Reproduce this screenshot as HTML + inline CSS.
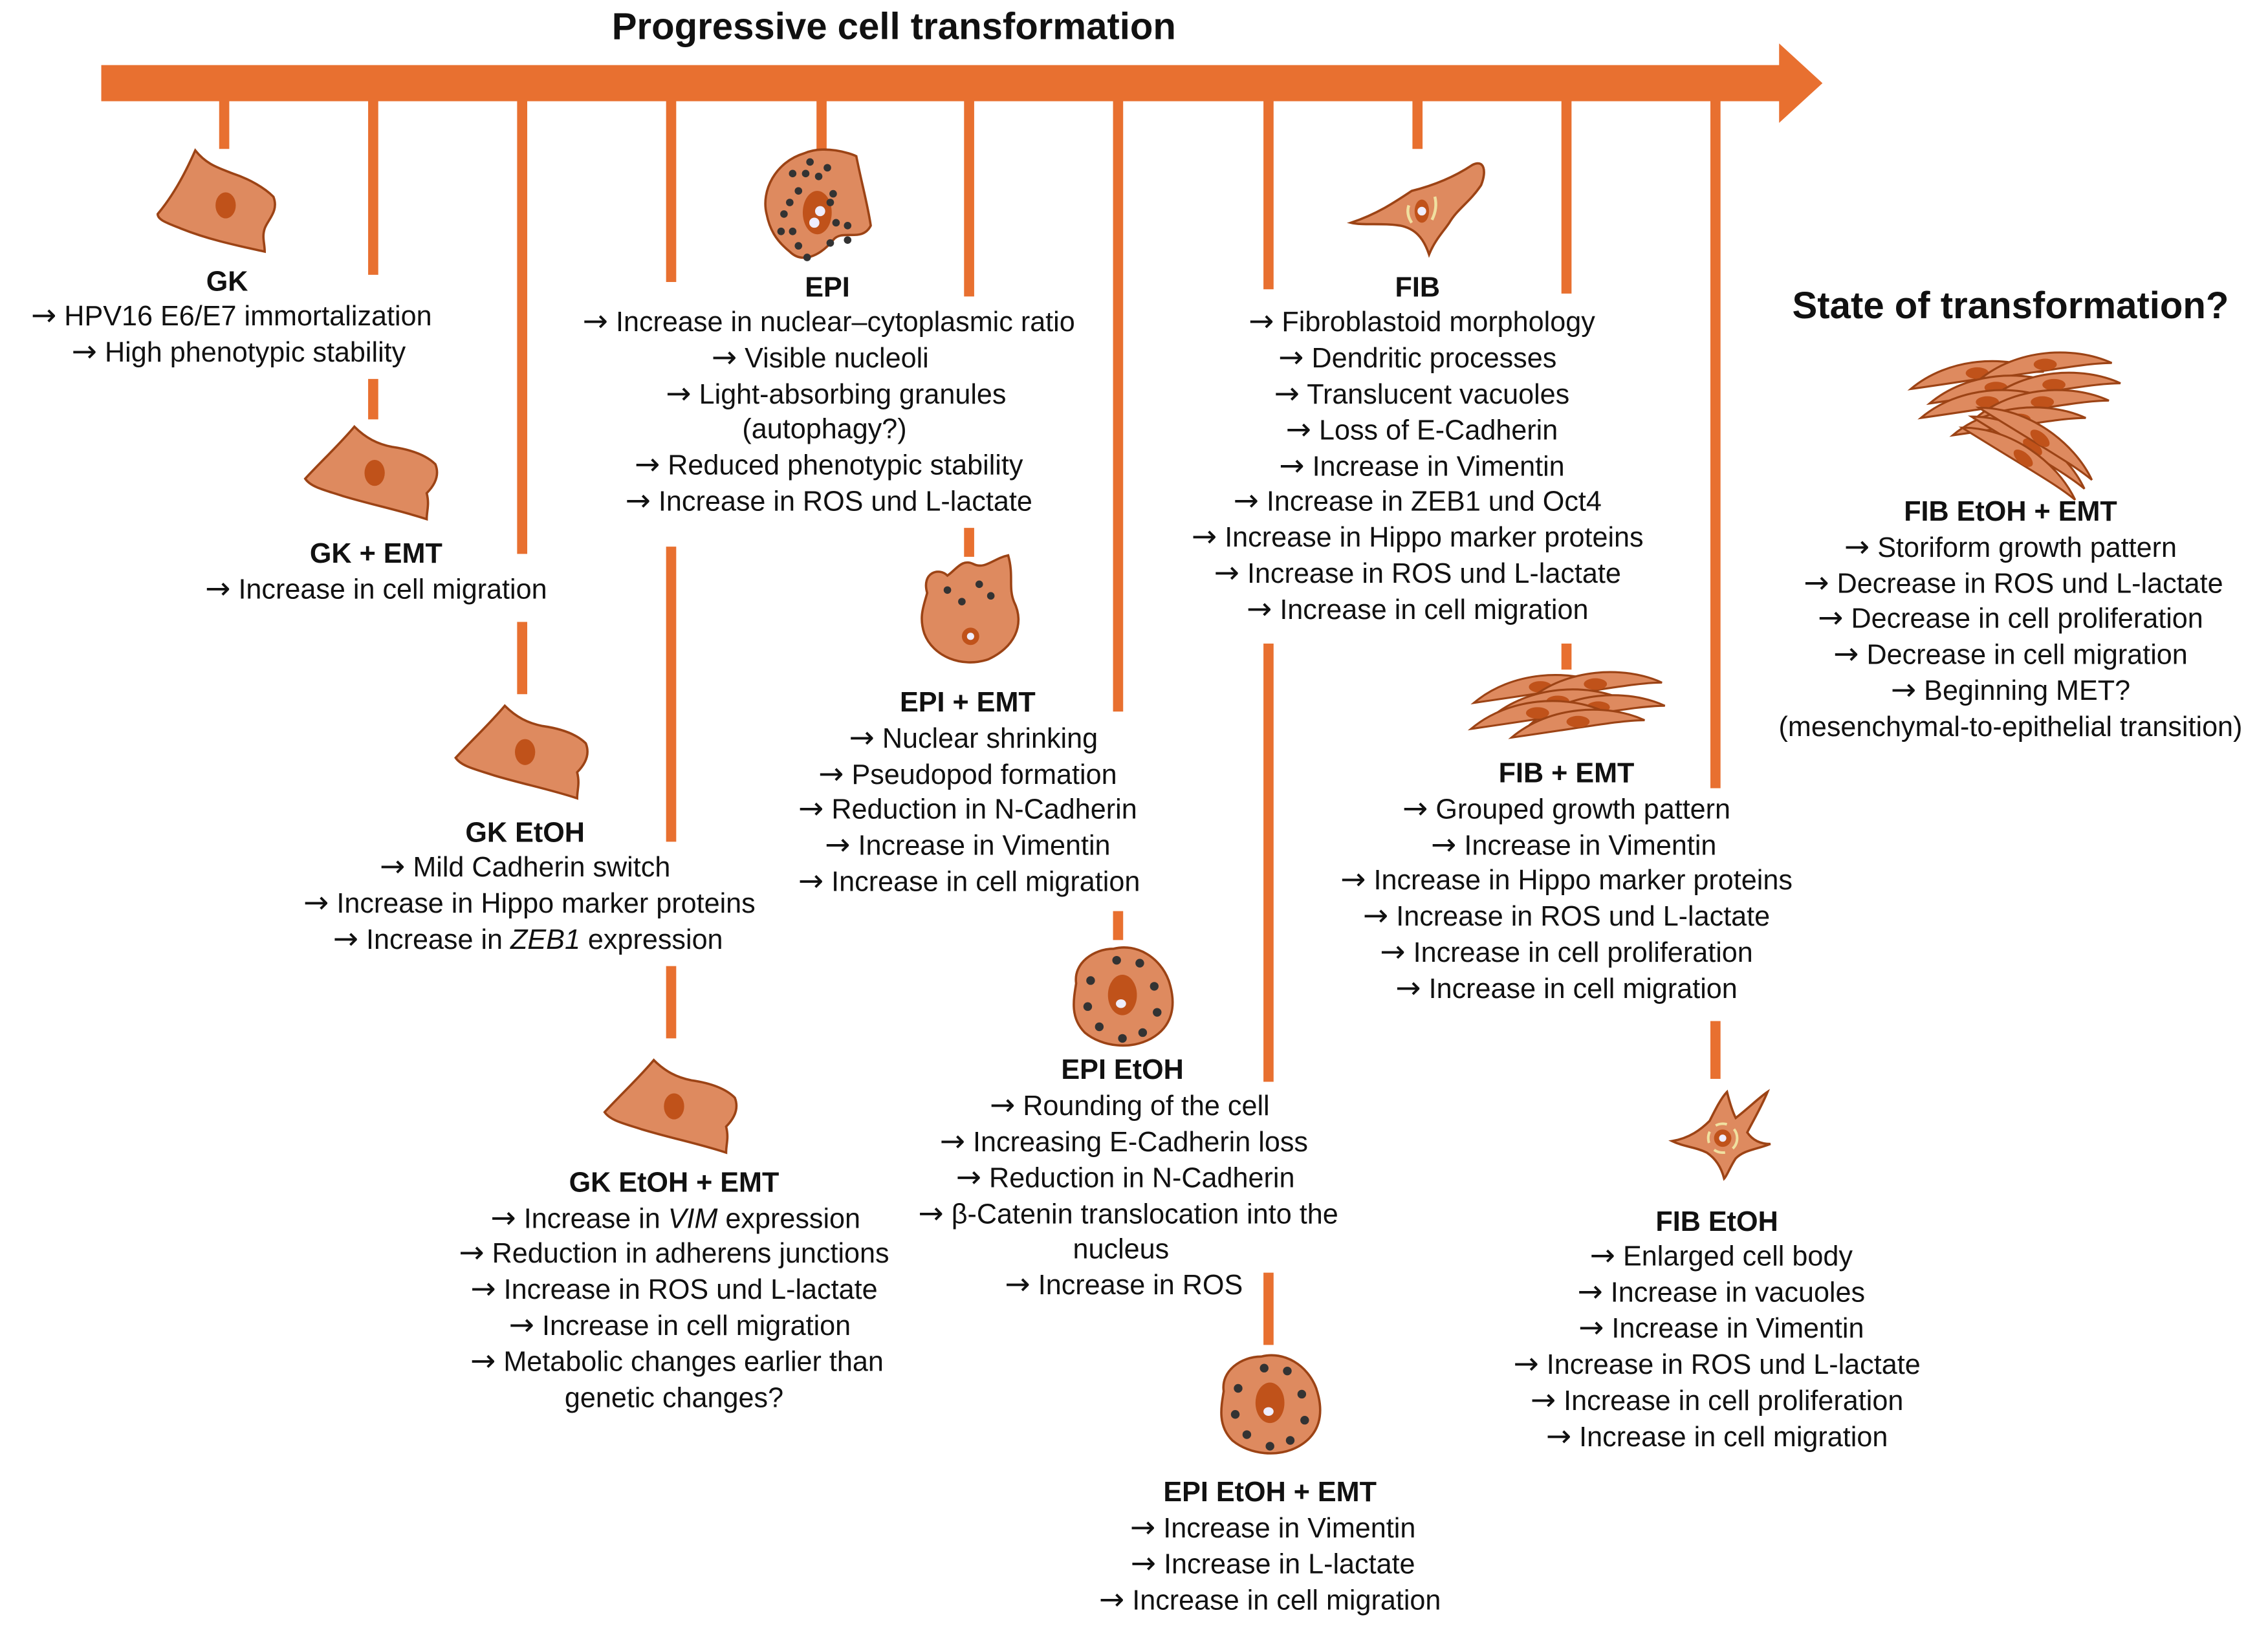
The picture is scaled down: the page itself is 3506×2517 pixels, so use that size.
<!DOCTYPE html>
<html><head><meta charset="utf-8"><style>
html,body{margin:0;padding:0;background:#fff;}
svg{display:block;}
text{font-family:"Liberation Sans",sans-serif;font-size:19.3px;fill:#111;text-anchor:middle;}
.a{font-family:"DejaVu Sans",sans-serif;font-size:21px;}
.b{font-weight:bold;}
.t{font-weight:bold;font-size:26px;}
</style></head><body>
<svg width="3506" height="2517" viewBox="0 0 1568 1125.7" xmlns="http://www.w3.org/2000/svg">
<defs>
<g id="epi"><path d="M-46,4 C-35,-8 -22,-20 -12,-32 C-4,-24 4,-20 14,-18 C28,-16 38,-12 44,-6 C48,4 40,12 38,14 C40,22 38,26 38,32 C20,26 0,22 -20,16 C-32,12 -42,10 -46,4Z" fill="#de8a5f" stroke="#9c4315" stroke-width="1.6"/><ellipse cx="2" cy="0" rx="7" ry="9" fill="#c0521a"/></g>
<g id="rnd"><path d="M-32,-8 C-34,-22 -20,-32 -6,-32 C10,-36 26,-26 32,-10 C38,8 34,22 20,30 C6,38 -14,36 -26,26 C-36,16 -34,4 -32,-8Z" fill="#de8a5f" stroke="#9c4315" stroke-width="1.6"/><ellipse cx="0" cy="0" rx="10" ry="14" fill="#c0521a"/><ellipse cx="-1" cy="6" rx="3.5" ry="3" fill="#eef"/>
<g fill="#333"><circle cx="-22" cy="-10" r="3"/><circle cx="-24" cy="8" r="3"/><circle cx="-16" cy="22" r="3"/><circle cx="-4" cy="-24" r="3"/><circle cx="12" cy="-22" r="3"/><circle cx="22" cy="-6" r="3"/><circle cx="24" cy="12" r="3"/><circle cx="14" cy="26" r="3"/><circle cx="0" cy="30" r="3"/></g></g>
<g id="sp"><path d="M-46,6 C-20,-16 20,-18 46,-6 C30,-6 10,-2 -46,6Z" fill="#de8a5f" stroke="#9c4315" stroke-width="1.4"/><ellipse cx="0" cy="-5" rx="8" ry="4" fill="#c0521a"/></g>
</defs>
<text class="t" x="618" y="27">Progressive cell transformation</text>
<rect x="70" y="45" width="1164" height="25" fill="#e87030"/>
<polygon points="1230,30 1260,57.5 1230,85" fill="#e87030"/>
<g stroke="#e87030" stroke-width="7" fill="none">
<path d="M155,70V103 M258,70V190 M258,262V290 M361,70V383 M361,430V480 M464,70V195 M464,378V582 M464,668V718 M568,70V103 M670,70V205 M670,365V385 M773,70V492 M773,630V650 M877,70V200 M877,445V748 M877,880V930 M980,70V103 M1083,70V203 M1083,445V463 M1186,70V545 M1186,706V746"/>
</g>
<g transform="translate(155,140)"><path d="M-46,8 C-36,-4 -28,-18 -20,-36 C-12,-26 -4,-24 6,-20 C18,-16 28,-10 34,-4 C38,6 30,12 28,18 C26,24 28,28 28,34 C10,30 -10,26 -30,18 C-40,14 -46,12 -46,8Z" fill="#de8a5f" stroke="#9c4315" stroke-width="1.6"/><ellipse cx="1" cy="2" rx="7" ry="9" fill="#c0521a"/></g>
<use href="#epi" x="257" y="327"/>
<use href="#epi" x="361" y="520"/>
<use href="#epi" x="464" y="765"/>
<g transform="translate(566,142)"><path d="M-36,6 C-40,-10 -30,-30 -10,-36 C4,-42 22,-36 26,-34 C30,-14 34,0 36,14 C30,26 16,16 10,24 C0,36 -12,40 -20,32 C-30,24 -34,16 -36,6Z" fill="#de8a5f" stroke="#9c4315" stroke-width="1.6"/><ellipse cx="-1" cy="5" rx="10" ry="15" fill="#c0521a"/><circle cx="1" cy="4" r="3.5" fill="#eef"/><circle cx="-3" cy="12" r="3.5" fill="#eef"/>
<g fill="#333"><circle cx="-6" cy="-30" r="2.6"/><circle cx="6" cy="-26" r="2.6"/><circle cx="-18" cy="-22" r="2.6"/><circle cx="-9" cy="-22" r="2.6"/><circle cx="0" cy="-20" r="2.6"/><circle cx="-14" cy="-10" r="2.6"/><circle cx="10" cy="-8" r="2.6"/><circle cx="8" cy="-2" r="2.6"/><circle cx="-20" cy="-2" r="2.6"/><circle cx="-24" cy="6" r="2.6"/><circle cx="-26" cy="18" r="2.6"/><circle cx="-18" cy="18" r="2.6"/><circle cx="12" cy="12" r="2.6"/><circle cx="20" cy="14" r="2.6"/><circle cx="-14" cy="28" r="2.6"/><circle cx="8" cy="26" r="2.6"/><circle cx="20" cy="24" r="2.6"/><circle cx="-8" cy="36" r="2.6"/></g></g>
<g transform="translate(671,422)"><path d="M-30,-12 C-34,-26 -22,-30 -16,-24 C-10,-28 -6,-36 2,-32 C10,-28 16,-36 26,-38 C30,-24 26,-16 30,-6 C38,10 30,26 12,34 C-6,40 -26,32 -32,16 C-36,4 -32,-4 -30,-12Z" fill="#de8a5f" stroke="#9c4315" stroke-width="1.6"/><circle cx="0" cy="18" r="6" fill="#c0521a"/><circle cx="0" cy="18" r="2.5" fill="#eef"/><g fill="#333"><circle cx="-16" cy="-14" r="2.6"/><circle cx="-6" cy="-6" r="2.6"/><circle cx="6" cy="-18" r="2.6"/><circle cx="14" cy="-10" r="2.6"/></g></g>
<use href="#rnd" x="776" y="688"/>
<use href="#rnd" x="878" y="970"/>
<g transform="translate(982,140)"><path d="M-48,14 C-30,8 -18,0 -6,-8 C10,-12 24,-18 36,-26 C44,-30 46,-22 42,-12 C34,0 26,4 20,14 C16,20 10,26 6,36 C2,24 -4,18 -14,16 C-26,14 -40,16 -48,14Z" fill="#de8a5f" stroke="#9c4315" stroke-width="1.6"/><ellipse cx="1" cy="6" rx="5" ry="8" fill="#c0521a"/><circle cx="1" cy="6" r="3" fill="#eef"/><path d="M-8,2 Q-10,8 -6,14 M10,-4 Q12,4 8,12" stroke="#f0e0a0" stroke-width="2" fill="none"/></g>
<g transform="translate(1083,490)"><use href="#sp" x="-18" y="-10"/><use href="#sp" x="20" y="-12"/><use href="#sp" x="-6" y="0"/><use href="#sp" x="22" y="4"/><use href="#sp" x="-20" y="8"/><use href="#sp" x="8" y="14"/></g>
<g transform="translate(1190,785)"><path d="M-34,4 C-22,2 -14,-4 -8,-10 C-4,-18 0,-26 4,-30 C6,-22 8,-16 10,-12 C18,-18 26,-26 32,-30 C28,-20 22,-10 18,-2 C22,4 28,6 34,6 C24,10 16,10 10,16 C6,22 4,28 2,30 C0,22 -4,16 -10,12 C-18,8 -26,8 -34,4Z" fill="#de8a5f" stroke="#9c4315" stroke-width="1.6"/><ellipse cx="1" cy="2" rx="6" ry="6" fill="#c0521a"/><circle cx="1" cy="2" r="2.5" fill="#eef"/><circle cx="1" cy="2" r="10" fill="none" stroke="#f0e0a0" stroke-width="1.8" stroke-dasharray="8 6"/></g>
<g transform="translate(1392,285)"><use href="#sp" x="-25" y="-22"/><use href="#sp" x="22" y="-28"/><use href="#sp" x="-12" y="-12"/><use href="#sp" x="28" y="-14"/><use href="#sp" x="-18" y="-2"/><use href="#sp" x="20" y="-2"/><use href="#sp" x="4" y="10"/><g transform="translate(10,28) rotate(40)"><use href="#sp"/><use href="#sp" y="10"/><use href="#sp" y="-8"/></g></g>

<text class="b" x="157" y="201">GK</text>
<text x="160" y="225"><tspan class="a">→</tspan>   HPV16 E6/E7 immortalization</text>
<text x="165" y="250"><tspan class="a">→</tspan>   High phenotypic stability</text>
<text class="b" x="260" y="389">GK + EMT</text>
<text x="260" y="414"><tspan class="a">→</tspan> Increase in cell migration</text>
<text class="b" x="363" y="582">GK EtOH</text>
<text x="363" y="606"><tspan class="a">→</tspan>   Mild Cadherin switch</text>
<text x="366" y="631"><tspan class="a">→</tspan>   Increase in Hippo marker proteins</text>
<text x="365" y="656"><tspan class="a">→</tspan>   Increase in  <tspan font-style="italic">ZEB1</tspan> expression</text>
<text class="b" x="466" y="824">GK EtOH + EMT</text>
<text x="467" y="849"><tspan class="a">→</tspan>   Increase in <tspan font-style="italic">VIM</tspan> expression</text>
<text x="466" y="873"><tspan class="a">→</tspan>   Reduction in adherens junctions</text>
<text x="466" y="898"><tspan class="a">→</tspan>   Increase in  ROS und L-lactate</text>
<text x="470" y="923"><tspan class="a">→</tspan>   Increase in cell migration</text>
<text x="468" y="948"><tspan class="a">→</tspan>   Metabolic changes earlier than</text>
<text x="466" y="973">genetic changes?</text>
<text class="b" x="572" y="205">EPI</text>
<text x="573" y="229"><tspan class="a">→</tspan>   Increase in nuclear–cytoplasmic ratio</text>
<text x="567" y="254"><tspan class="a">→</tspan>   Visible nucleoli</text>
<text x="578" y="279"><tspan class="a">→</tspan>   Light-absorbing granules</text>
<text x="570" y="303">(autophagy?)</text>
<text x="573" y="328"><tspan class="a">→</tspan>   Reduced phenotypic stability</text>
<text x="573" y="353"><tspan class="a">→</tspan>   Increase in  ROS und L-lactate</text>
<text class="b" x="669" y="492">EPI + EMT</text>
<text x="673" y="517"><tspan class="a">→</tspan>   Nuclear shrinking</text>
<text x="669" y="542"><tspan class="a">→</tspan>   Pseudopod formation</text>
<text x="669" y="566"><tspan class="a">→</tspan>   Reduction in N-Cadherin</text>
<text x="669" y="591"><tspan class="a">→</tspan>   Increase in Vimentin</text>
<text x="670" y="616"><tspan class="a">→</tspan>   Increase in cell migration</text>
<text class="b" x="776" y="746">EPI EtOH</text>
<text x="781" y="771"><tspan class="a">→</tspan>   Rounding of the cell</text>
<text x="777" y="796"><tspan class="a">→</tspan>   Increasing E-Cadherin loss</text>
<text x="778" y="821"><tspan class="a">→</tspan>   Reduction in N-Cadherin</text>
<text x="780" y="846"><tspan class="a">→</tspan>   β-Catenin translocation into the</text>
<text x="775" y="870">nucleus</text>
<text x="777" y="895"><tspan class="a">→</tspan> Increase in ROS</text>
<text class="b" x="878" y="1038">EPI EtOH + EMT</text>
<text x="880" y="1063"><tspan class="a">→</tspan>   Increase in Vimentin</text>
<text x="880" y="1088"><tspan class="a">→</tspan>   Increase in  L-lactate</text>
<text x="878" y="1113"><tspan class="a">→</tspan>   Increase in cell migration</text>
<text class="b" x="980" y="205">FIB</text>
<text x="983" y="229"><tspan class="a">→</tspan>   Fibroblastoid morphology</text>
<text x="980" y="254"><tspan class="a">→</tspan>   Dendritic processes</text>
<text x="983" y="279"><tspan class="a">→</tspan>   Translucent vacuoles</text>
<text x="983" y="304"><tspan class="a">→</tspan>   Loss of E-Cadherin</text>
<text x="983" y="329"><tspan class="a">→</tspan>   Increase in Vimentin</text>
<text x="980" y="353"><tspan class="a">→</tspan>   Increase in ZEB1 und Oct4</text>
<text x="980" y="378"><tspan class="a">→</tspan>   Increase in Hippo marker proteins</text>
<text x="980" y="403"><tspan class="a">→</tspan>   Increase in  ROS und L-lactate</text>
<text x="980" y="428"><tspan class="a">→</tspan>   Increase in cell migration</text>
<text class="b" x="1083" y="541">FIB + EMT</text>
<text x="1083" y="566"><tspan class="a">→</tspan>   Grouped growth pattern</text>
<text x="1088" y="591"><tspan class="a">→</tspan>   Increase in Vimentin</text>
<text x="1083" y="615"><tspan class="a">→</tspan>   Increase in Hippo marker proteins</text>
<text x="1083" y="640"><tspan class="a">→</tspan>   Increase in  ROS und L-lactate</text>
<text x="1083" y="665"><tspan class="a">→</tspan>   Increase in cell proliferation</text>
<text x="1083" y="690"><tspan class="a">→</tspan>   Increase in cell migration</text>
<text class="b" x="1187" y="851">FIB EtOH</text>
<text x="1190" y="875"><tspan class="a">→</tspan>   Enlarged cell body</text>
<text x="1190" y="900"><tspan class="a">→</tspan>   Increase in vacuoles</text>
<text x="1190" y="925"><tspan class="a">→</tspan>   Increase in Vimentin</text>
<text x="1187" y="950"><tspan class="a">→</tspan>   Increase in  ROS und L-lactate</text>
<text x="1187" y="975"><tspan class="a">→</tspan>   Increase in cell proliferation</text>
<text x="1187" y="1000"><tspan class="a">→</tspan>   Increase in cell migration</text>
<text class="t" x="1390" y="220">State of transformation?</text>
<text class="b" x="1390" y="360">FIB EtOH + EMT</text>
<text x="1390" y="385"><tspan class="a">→</tspan>   Storiform growth pattern</text>
<text x="1392" y="410"><tspan class="a">→</tspan>   Decrease in  ROS und L-lactate</text>
<text x="1390" y="434"><tspan class="a">→</tspan>   Decrease in cell proliferation</text>
<text x="1390" y="459"><tspan class="a">→</tspan>   Decrease in cell migration</text>
<text x="1390" y="484"><tspan class="a">→</tspan>   Beginning MET?</text>
<text x="1390" y="509">(mesenchymal-to-epithelial transition)</text>
</svg>
</body></html>
